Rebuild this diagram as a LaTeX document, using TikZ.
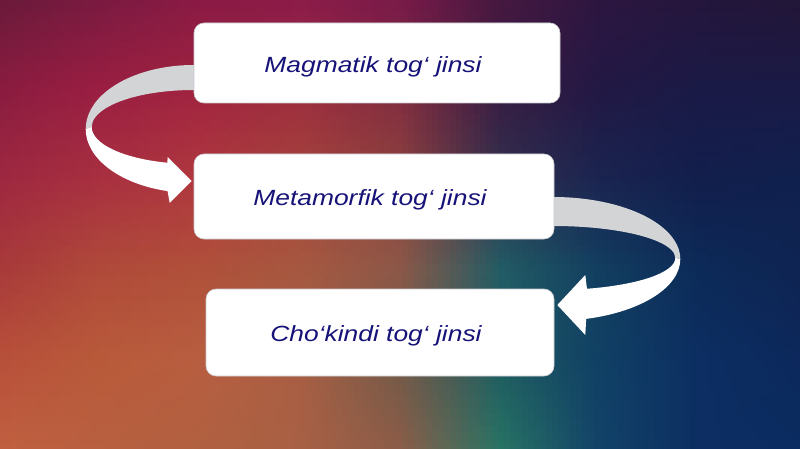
\documentclass[tikz,border=0pt]{standalone}
\usepackage{fontspec}
\usepackage{graphicx}
\newfontfamily\labfont{Liberation Sans}
\usetikzlibrary{calc}
\pgfdeclarelayer{back}
\pgfdeclarelayer{mid}
\pgfsetlayers{back,mid,main}
\newcommand\bgset[5]{%
  \expandafter\def\csname bgc-#1-#2-R\endcsname{#3}%
  \expandafter\def\csname bgc-#1-#2-G\endcsname{#4}%
  \expandafter\def\csname bgc-#1-#2-B\endcsname{#5}}
\newcommand\bgv[3]{\csname bgc-#1-#2-#3\endcsname}
\newcommand\bgmix[1]{\the\numexpr((100-\bgFX)*(90-\bgFY)*\bgv{\bgI}{\bgJ}{#1}+\bgFX*(90-\bgFY)*\bgv{\bgII}{\bgJ}{#1}+(100-\bgFX)*\bgFY*\bgv{\bgI}{\bgJJ}{#1}+\bgFX*\bgFY*\bgv{\bgII}{\bgJJ}{#1})/9000\relax}
% row y=0
\bgset00{106}{26}{58}\bgset10{122}{26}{64}\bgset20{138}{26}{68}\bgset30{140}{28}{72}\bgset40{120}{26}{72}
\bgset50{70}{24}{64}\bgset60{44}{22}{64}\bgset70{36}{22}{60}\bgset80{34}{22}{56}\bgset90{34}{22}{56}
% row y=90
\bgset01{138}{28}{64}\bgset11{154}{30}{66}\bgset21{160}{36}{64}\bgset31{156}{44}{62}\bgset41{128}{44}{64}
\bgset51{56}{28}{66}\bgset61{34}{24}{68}\bgset71{26}{26}{70}\bgset81{26}{26}{70}\bgset91{26}{26}{70}
% row y=180
\bgset02{158}{40}{64}\bgset12{168}{48}{64}\bgset22{176}{56}{62}\bgset32{166}{68}{60}\bgset42{140}{66}{62}
\bgset52{50}{48}{78}\bgset62{26}{36}{80}\bgset72{18}{30}{76}\bgset82{16}{32}{78}\bgset92{16}{32}{78}
% row y=270
\bgset03{168}{58}{58}\bgset13{176}{74}{58}\bgset23{176}{80}{58}\bgset33{166}{88}{64}\bgset43{140}{88}{72}
\bgset53{34}{92}{100}\bgset63{18}{62}{96}\bgset73{12}{42}{88}\bgset83{14}{36}{82}\bgset93{14}{36}{82}
% row y=360
\bgset04{184}{80}{58}\bgset14{184}{90}{58}\bgset24{184}{94}{64}\bgset34{168}{94}{68}\bgset44{112}{90}{72}
\bgset54{30}{90}{96}\bgset64{16}{64}{100}\bgset74{12}{46}{98}\bgset84{12}{40}{92}\bgset94{12}{40}{92}
% row y=450
\bgset05{192}{96}{64}\bgset15{184}{96}{64}\bgset25{176}{96}{64}\bgset35{168}{96}{68}\bgset45{140}{92}{72}
\bgset55{40}{116}{100}\bgset65{18}{66}{104}\bgset75{12}{46}{98}\bgset85{10}{44}{96}\bgset95{10}{44}{96}
% row y=540 (guard)
\bgset06{192}{96}{64}\bgset16{184}{96}{64}\bgset26{176}{96}{64}\bgset36{168}{96}{68}\bgset46{140}{92}{72}
\bgset56{40}{116}{100}\bgset66{18}{66}{104}\bgset76{12}{46}{98}\bgset86{10}{44}{96}\bgset96{10}{44}{96}
\definecolor{navytext}{RGB}{22,18,120}
\definecolor{ribgrey}{RGB}{210,212,214}
\definecolor{boxline}{RGB}{200,200,205}
\newcommand\lbltext[1]{\hspace*{-8pt}\scalebox{1.2}[1]{#1}}
\tikzset{
  rbox/.style={draw=boxline, line width=0.6pt, fill=white, rounded corners=10pt, inner sep=0pt,
    text height=22pt, text depth=3.4pt,
    font=\labfont\itshape\fontsize{22}{26}\selectfont, text=navytext},
  ribback/.style={fill=ribgrey},
  ribfront/.style={fill=white}
}
\begin{document}
\begin{tikzpicture}[x=1pt,y=-1pt]
\useasboundingbox (0,0) rectangle (800,449);
\begin{pgfonlayer}{back}
\begin{scope}
\clip (0,0) rectangle (800,449);
\foreach \gx in {0,...,133}{%
  \foreach \gy in {0,...,74}{%
    \edef\bgCX{\the\numexpr6*\gx+3\relax}%
    \edef\bgI{\the\numexpr(2*\bgCX-100)/200\relax}%
    \edef\bgII{\the\numexpr\bgI+1\relax}%
    \edef\bgFX{\the\numexpr\bgCX-100*\bgI\relax}%
    \edef\bgCY{\the\numexpr6*\gy+3\relax}%
    \edef\bgJ{\the\numexpr(2*\bgCY-90)/180\relax}%
    \edef\bgJJ{\the\numexpr\bgJ+1\relax}%
    \edef\bgFY{\the\numexpr\bgCY-90*\bgJ\relax}%
    \edef\bgtmp{\noexpand\definecolor{cellc}{RGB}{\bgmix{R},\bgmix{G},\bgmix{B}}}\bgtmp
    \fill[cellc] (6*\gx,6*\gy) rectangle ++(6.5,6.5);
  }}
\end{scope}
\end{pgfonlayer}

\node[rbox, minimum width=366, minimum height=80] (m1) at (377,63) {\lbltext{Magmatik tog‘ jinsi}};
\node[rbox, minimum width=360, minimum height=85] (m2) at (374,196.5) {\lbltext{Metamorfik tog‘ jinsi}};
\node[rbox, minimum width=348, minimum height=87] (m3) at (380,332.5) {\lbltext{Cho‘kindi tog‘ jinsi}};

\begin{pgfonlayer}{mid}
% left ribbon arrow: m1 -> m2
\coordinate (lc) at ($(m1.west)+(0,66)$);
\fill[ribback] ($(lc)+(276:108 and 64)$) arc[start angle=276, end angle=180, x radius=108, y radius=64]
  -- ($(lc)+(0,-2)+(180:102 and 37)$) arc[start angle=180, end angle=276, x radius=102, y radius=37] -- cycle;
\fill[ribfront] ($(lc)+(180:108 and 64)$) arc[start angle=180, end angle=104, x radius=108, y radius=64]
  -- ($(lc)+(-24,74)$) -- ($(lc)+(-2,52)$) -- ($(lc)+(-26,28)$)
  -- ($(lc)+(0,-2)+(105:102 and 37)$) arc[start angle=105, end angle=180, x radius=102, y radius=37] -- cycle;
% right ribbon arrow: m2 -> m3
\coordinate (rc) at ($(m2.east)+(-1,62.5)$);
\fill[ribback] ($(rc)+(264:127 and 62)$) arc[start angle=264, end angle=360, x radius=127, y radius=62]
  -- ($(rc)+(0,-1)+(0:122 and 32)$) arc[start angle=360, end angle=264, x radius=122, y radius=32] -- cycle;
\fill[ribfront] ($(rc)+(0:127 and 62)$) arc[start angle=0, end angle=75, x radius=127, y radius=62]
  -- ($(rc)+(32,76)$) -- ($(rc)+(4,46)$) -- ($(rc)+(32,16)$)
  -- ($(rc)+(0,-1)+(74:122 and 32)$) arc[start angle=74, end angle=0, x radius=122, y radius=32] -- cycle;
\end{pgfonlayer}
\end{tikzpicture}
\end{document}
